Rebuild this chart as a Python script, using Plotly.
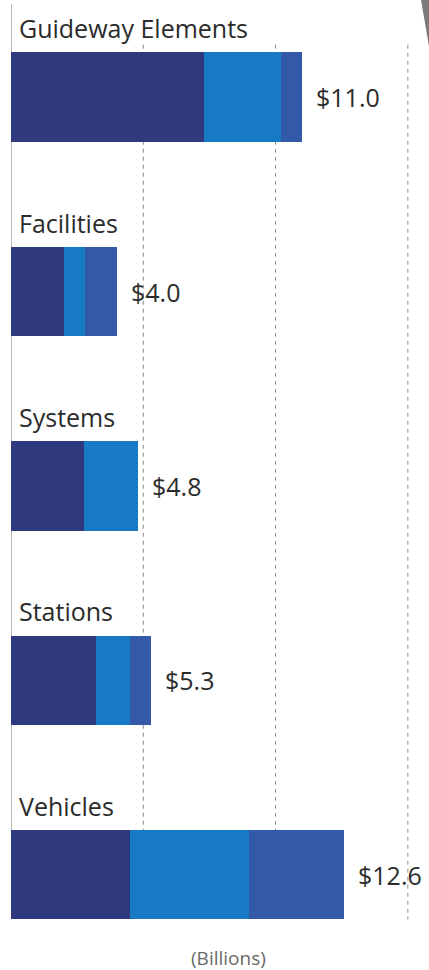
import plotly.graph_objects as go

# Capital cost by category, in billions of dollars
categories = ["Guideway Elements", "Facilities", "Systems", "Stations", "Vehicles"]
totals = [11.0, 4.0, 4.8, 5.3, 12.6]
segment_a = [7.3, 2.0, 2.75, 3.2, 4.5]
segment_b = [2.9, 0.8, 2.05, 1.3, 4.5]
segment_c = [0.8, 1.2, 0.0, 0.8, 3.6]
grid_values = [5, 10, 15]
value_labels = ["$11.0", "$4.0", "$4.8", "$5.3", "$12.6"]
unit_label = "(Billions)"

colors = ["#2f3a7e", "#1879c4", "#3459a9"]
font_family = "Open Sans, sans-serif"
text_color = "#2b2b2b"

positions = list(range(len(categories)))

fig = go.Figure()
for seg, col in zip([segment_a, segment_b, segment_c], colors):
    fig.add_trace(go.Bar(
        x=seg, y=positions, orientation="h", width=0.46,
        marker=dict(color=col, line=dict(width=0)),
        hoverinfo="skip", showlegend=False,
    ))

shapes = []
last = positions[-1]
# dashed guide lines
for g in grid_values:
    y_top = -0.27 if g < max(grid_values) else -0.27
    y_bot = last - 0.23 if g < max(grid_values) else last + 0.23
    shapes.append(dict(type="line", xref="x", yref="y", x0=g, x1=g,
                       y0=y_top, y1=y_bot, layer="below",
                       line=dict(color="#8a8a8a", width=1, dash="4px,4px")))
# baseline on the left
shapes.append(dict(type="line", xref="x", yref="y", x0=0, x1=0,
                   y0=-0.48, y1=last - 0.23, layer="below",
                   line=dict(color="#8c8c8c", width=1.2)))
# grey corner fold at the top right
shapes.append(dict(type="path", xref="paper", yref="paper",
                   path="M 0.981 1 L 1.0 1 L 1.0 0.952 Z",
                   fillcolor="#7a7a7a", line=dict(width=0), layer="above"))

annotations = []
for p, name, tot, lab in zip(positions, categories, totals, value_labels):
    annotations.append(dict(x=0, y=p - 0.355, xref="x", yref="y", text=name,
                            showarrow=False, xanchor="left", yanchor="middle",
                            xshift=6, font=dict(family=font_family, size=25, color=text_color)))
    annotations.append(dict(x=tot, y=p, xref="x", yref="y", text=lab,
                            showarrow=False, xanchor="left", yanchor="middle",
                            xshift=12, font=dict(family=font_family, size=25, color=text_color)))
annotations.append(dict(x=0.52, y=0.012, xref="paper", yref="paper", text=unit_label,
                        showarrow=False, xanchor="center", yanchor="middle",
                        font=dict(family=font_family, size=19, color="#6a6a6a")))

fig.update_layout(
    width=429, height=970,
    margin=dict(l=11, r=0, t=0, b=0),
    barmode="stack", bargap=0,
    plot_bgcolor="white", paper_bgcolor="white",
    xaxis=dict(range=[0, 15.8], showgrid=False, zeroline=False,
               showticklabels=False, ticks="", fixedrange=True),
    yaxis=dict(range=[4.49, -0.5], showgrid=False, zeroline=False,
               showticklabels=False, ticks="", fixedrange=True),
    shapes=shapes, annotations=annotations,
)

fig.write_html("out.html")
